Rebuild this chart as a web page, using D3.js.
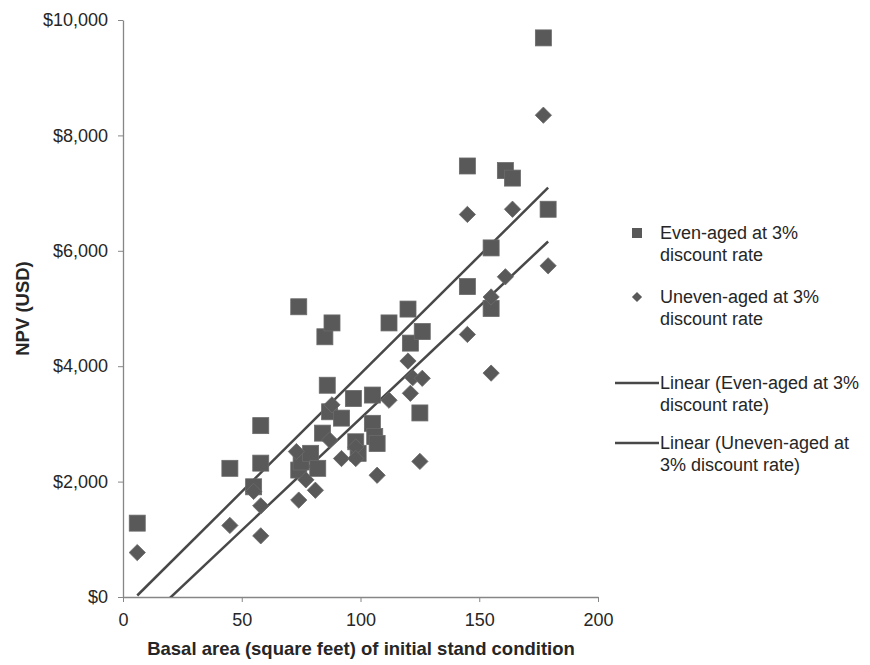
<!DOCTYPE html>
<html lang="en">
<head>
  <meta charset="UTF-8">
  <title>NPV vs basal area</title>
  <style>
    body { margin: 0; background: #fff; }
    svg { font-family: "Liberation Sans", Arial, sans-serif; }
    .axis path, .axis line { stroke: #868686; }
    .axis text { fill: #262626; font-size: 18px; }
    .title { fill: #262626; font-size: 18.5px; font-weight: bold; }
    .legend text { fill: #262626; font-size: 18px; }
  </style>
</head>
<body>
  <svg width="870" height="665"></svg>

  <script src="https://d3js.org/d3.v7.min.js"></script>
  <script>
    // Even-aged at 3% discount rate (basal area, NPV)
    var evenX = [6, 45, 55, 58, 58, 74, 74, 75, 79, 82, 84, 85, 86, 87, 88, 92, 97, 98, 99,
                 105, 105, 106, 107, 112, 120, 121, 125, 126, 145, 145, 155, 155, 161, 164, 177, 179];
    var evenY = [1280, 2230, 1910, 2320, 2970, 5030, 2200, 2340, 2490, 2230, 2840, 4510, 3670, 3210, 4750, 3100, 3440, 2690, 2490,
                 3500, 3010, 2780, 2660, 4750, 4990, 4400, 3190, 4600, 7470, 5380, 6050, 5000, 7390, 7260, 9690, 6720];

    // Uneven-aged at 3% discount rate
    var unevenX = [6, 45, 55, 58, 58, 73, 74, 77, 81, 88, 87, 92, 98, 98, 107, 112, 120, 121, 122, 126,
                   125, 145, 145, 155, 155, 161, 164, 177, 179];
    var unevenY = [770, 1240, 1830, 1580, 1060, 2520, 1680, 2030, 1850, 3330, 2720, 2400, 2600, 2400, 2110, 3410, 4090, 3530, 3800, 3790,
                   2350, 6630, 4550, 5200, 3880, 5550, 6720, 8350, 5740];

    var xTicks = [0, 50, 100, 150, 200];
    var yTicks = [0, 2000, 4000, 6000, 8000, 10000];
    var seriesNames = ["Even-aged at 3%|discount rate", "Uneven-aged at 3%|discount rate",
                       "Linear (Even-aged at 3%|discount rate)", "Linear (Uneven-aged at|3% discount rate)"];

    var svg = d3.select("svg");
    var plotL = 123, plotR = 598, plotT = 20, plotB = 597;
    var markColor = "#595959", lineColor = "#484848";

    var x = d3.scaleLinear().domain([0, 200]).range([plotL, plotR]);
    var y = d3.scaleLinear().domain([0, 10000]).range([plotB, plotT]);

    svg.append("defs").append("clipPath").attr("id", "plot")
      .append("rect").attr("x", plotL).attr("y", plotT).attr("width", plotR - plotL).attr("height", plotB - plotT);

    // axes
    svg.append("g").attr("class", "axis")
      .attr("transform", "translate(0," + plotB + ")")
      .call(d3.axisBottom(x).tickValues(xTicks).tickSize(5).tickPadding(11).tickSizeOuter(0));

    svg.append("g").attr("class", "axis")
      .attr("transform", "translate(" + plotL + ",0)")
      .call(d3.axisLeft(y).tickValues(yTicks).tickSize(5).tickPadding(10).tickSizeOuter(0)
        .tickFormat(d => "$" + d3.format(",")(d)));

    svg.selectAll(".axis path").attr("stroke-width", 1.3);

    // trend lines (least squares over each series)
    function fit(xs, ys) {
      var mx = d3.mean(xs), my = d3.mean(ys);
      var sxy = d3.sum(xs, (v, i) => (v - mx) * (ys[i] - my));
      var sxx = d3.sum(xs, v => (v - mx) * (v - mx));
      var b = sxy / sxx;
      return { b: b, a: my - b * mx, x0: d3.min(xs), x1: d3.max(xs) };
    }

    var line = d3.line().x(d => x(d[0])).y(d => y(d[1]));
    [fit(evenX, evenY), fit(unevenX, unevenY)].forEach(function(f) {
      svg.append("path")
        .attr("clip-path", "url(#plot)")
        .attr("d", line([[f.x0, f.a + f.b * f.x0], [f.x1, f.a + f.b * f.x1]]))
        .attr("fill", "none")
        .attr("stroke", lineColor)
        .attr("stroke-width", 2.5);
    });

    // markers
    var sq = 16, dm = 11.5;
    svg.append("g").selectAll("rect")
      .data(evenX.map((v, i) => [v, evenY[i]]))
      .join("rect")
      .attr("x", d => x(d[0]) - sq / 2)
      .attr("y", d => y(d[1]) - sq / 2)
      .attr("width", sq).attr("height", sq)
      .attr("fill", markColor)
      .attr("stroke", "#6a6a6a").attr("stroke-width", 0.8);

    svg.append("g").selectAll("rect")
      .data(unevenX.map((v, i) => [v, unevenY[i]]))
      .join("rect")
      .attr("x", -dm / 2).attr("y", -dm / 2)
      .attr("width", dm).attr("height", dm)
      .attr("transform", d => "translate(" + x(d[0]) + "," + y(d[1]) + ") rotate(45)")
      .attr("fill", markColor)
      .attr("stroke", "#6a6a6a").attr("stroke-width", 0.8);

    // axis titles
    svg.append("text").attr("class", "title")
      .attr("x", 361).attr("y", 655)
      .attr("text-anchor", "middle")
      .text("Basal area (square feet) of initial stand condition");

    svg.append("text").attr("class", "title")
      .attr("transform", "translate(29," + (plotT + plotB) / 2 + ") rotate(-90)")
      .attr("text-anchor", "middle")
      .text("NPV (USD)");

    // legend
    var legend = svg.append("g").attr("class", "legend");
    var rowY = [233, 297, 383, 443];
    seriesNames.forEach(function(name, i) {
      var g = legend.append("g").attr("transform", "translate(0," + rowY[i] + ")");
      if (i === 0) {
        g.append("rect").attr("x", 632).attr("y", -5).attr("width", 10).attr("height", 10).attr("fill", markColor);
      } else if (i === 1) {
        g.append("rect").attr("x", -3.6).attr("y", -3.6).attr("width", 7.2).attr("height", 7.2)
          .attr("transform", "translate(637,0) rotate(45)").attr("fill", markColor);
      } else {
        g.append("line").attr("x1", 615).attr("x2", 659).attr("y1", 0).attr("y2", 0)
          .attr("stroke", lineColor).attr("stroke-width", 2.5);
      }
      var t = g.append("text").attr("x", 660).attr("y", 0);
      name.split("|").forEach(function(part, j) {
        t.append("tspan").attr("x", 660).attr("y", j * 22).attr("dy", "0.35em").text(part);
      });
    });
  </script>
</body>
</html>
